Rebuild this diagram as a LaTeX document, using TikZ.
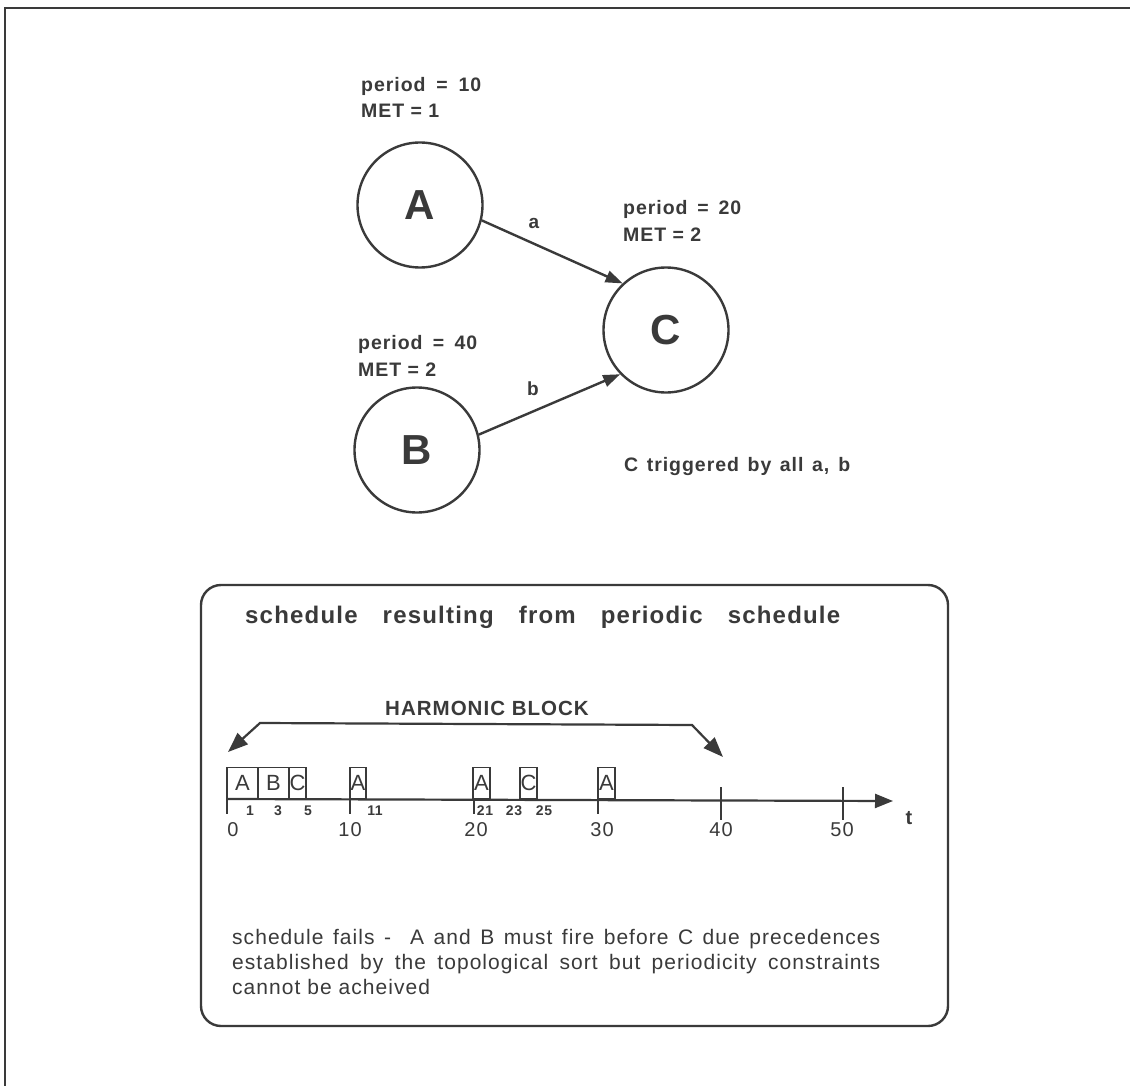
\documentclass[tikz,border=0pt]{standalone}
\usepackage{fontspec}
\setmainfont{Liberation Sans}[LetterSpace=5]
\usetikzlibrary{arrows.meta}
\definecolor{ink}{RGB}{58,58,58}
\begin{document}
\begin{tikzpicture}[x=1pt,y=-1pt,
  every node/.style={inner sep=0pt, text=ink},
  vertex/.style={circle, draw=ink, line width=2.4pt, minimum size=125pt,
    font=\fontsize{42}{42}\selectfont\bfseries},
  lbl/.style={font=\fontsize{19.5}{19.5}\selectfont\bfseries, anchor=west},
  elbl/.style={font=\fontsize{19}{19}\selectfont\bfseries},
  edge/.style={draw=ink, line width=2.4pt, -{Triangle[length=17pt,width=12pt]}},
  harm/.style={draw=ink, line width=2.2pt, {Triangle[length=20pt,width=15pt]}-{Triangle[length=20pt,width=15pt]}},
  axisline/.style={draw=ink, line width=2.2pt, -{Triangle[length=18pt,width=14pt]}},
  tick/.style={draw=ink, line width=2pt},
  slot/.style={draw=ink, line width=1.8pt, minimum height=31pt,
    font=\fontsize{22}{22}\selectfont},
  ticklbl/.style={font=\fontsize{20}{20}\selectfont},
  small/.style={font=\fontsize{14}{14}\selectfont\bfseries},
  body/.style={font=\fontsize{21}{25}\selectfont, anchor=north west, align=left}
]
\fill[white] (0,0) rectangle (1130,1086);
\useasboundingbox (0,0) rectangle (1130,1086);

% frame
\coordinate (f0) at (5,1086);
\coordinate (f1) at (5,8);
\coordinate (f2) at (1130,8);
\draw[ink, line width=2.6pt] (f0) -- (f1) -- (f2);

% graph
\node[vertex] (A) at (420,205) {A};
\node[vertex] (B) at (417,450) {B};
\node[vertex] (C) at (666,330) {C};

\node[lbl] (pA) at (361,86) {\makebox[120pt][s]{period = 10}};
\node[lbl] (mA) at (361,111) {MET = 1};
\node[lbl] (pC) at (623,209) {\makebox[118pt][s]{period = 20}};
\node[lbl] (mC) at (623,235) {MET = 2};
\node[lbl] (pB) at (358,344) {\makebox[119pt][s]{period = 40}};
\node[lbl] (mB) at (358,370) {MET = 2};

\draw[edge] (A.-14) -- (C.133);
\draw[edge] (B.14) -- (C.-136);
\node[elbl] (la) at (534,223) {a};
\node[elbl] (lb) at (533,389) {b};

\node[lbl, font=\fontsize{19.5}{19.5}\selectfont\bfseries] (trig) at (624,466) {\makebox[226pt][s]{C triggered by all a, b}};

% schedule box
\draw[ink, line width=2.4pt, rounded corners=20pt] (201,585) rectangle (948,1026);
\node[lbl, font=\fontsize{24}{24}\selectfont\bfseries] (title) at (245,617) {\makebox[595pt][s]{schedule resulting from periodic schedule}};

\node[font=\fontsize{20.5}{20.5}\selectfont\bfseries] (hb) at (487,708) {HARMONIC BLOCK};
\coordinate (h0) at (228,752);
\coordinate (h1) at (260,723);
\coordinate (h2) at (692,725);
\coordinate (h3) at (723,757);
\draw[harm] (h0) -- (h1) -- (h2) -- (h3);

% time axis
\coordinate (t0) at (227,799);
\coordinate (tE) at (893,801);
\draw[axisline] (t0) -- (tE);
\node[font=\fontsize{20}{20}\selectfont\bfseries] (tl) at (909,818) {t};

% slots
\node[slot, minimum width=31pt] (s1) at (242.5,783) {\makebox[0pt]{A}};
\node[slot, minimum width=31pt] (s2) at (273.5,783) {\makebox[0pt]{B}};
\node[slot, minimum width=17pt] (s3) at (297.5,783) {\makebox[0pt]{C}};
\node[slot, minimum width=16pt] (s4) at (358,783) {\makebox[0pt]{A}};
\node[slot, minimum width=17pt] (s5) at (481.5,783) {\makebox[0pt]{A}};
\node[slot, minimum width=17pt] (s6) at (528.5,783) {\makebox[0pt]{C}};
\node[slot, minimum width=17pt] (s7) at (606.5,783) {\makebox[0pt]{A}};

% ticks
\foreach \x/\n in {227/k0,350/k1,474/k2,598/k3} {
  \coordinate (\n a) at (\x,799);
  \coordinate (\n b) at (\x,814);
  \draw[tick] (\n a) -- (\n b);
}
\foreach \x/\n in {721/k4,843/k5} {
  \coordinate (\n a) at (\x,787);
  \coordinate (\n b) at (\x,820);
  \draw[tick] (\n a) -- (\n b);
}

% small numbers
\node[small] (n1) at (250,811) {1};
\node[small] (n3) at (278,811) {3};
\node[small] (n5) at (308,811) {5};
\node[small] (n11) at (375,811) {11};
\node[small] (n21) at (485,811) {21};
\node[small] (n23) at (514,811) {23};
\node[small] (n25) at (544,811) {25};

% tick labels
\node[ticklbl] (L0) at (233,830) {0};
\node[ticklbl] (L10) at (350,830) {10};
\node[ticklbl] (L20) at (476,830) {20};
\node[ticklbl] (L30) at (602,830) {30};
\node[ticklbl] (L40) at (721,830) {40};
\node[ticklbl] (L50) at (842,830) {50};

% explanation
\node[body] (expl) at (232,929) {\makebox[648pt][s]{schedule fails -\ \ A and B must fire before C due precedences}\\
\makebox[648pt][s]{established by the topological sort but periodicity constraints}\\
cannot be acheived};
\end{tikzpicture}
\end{document}
